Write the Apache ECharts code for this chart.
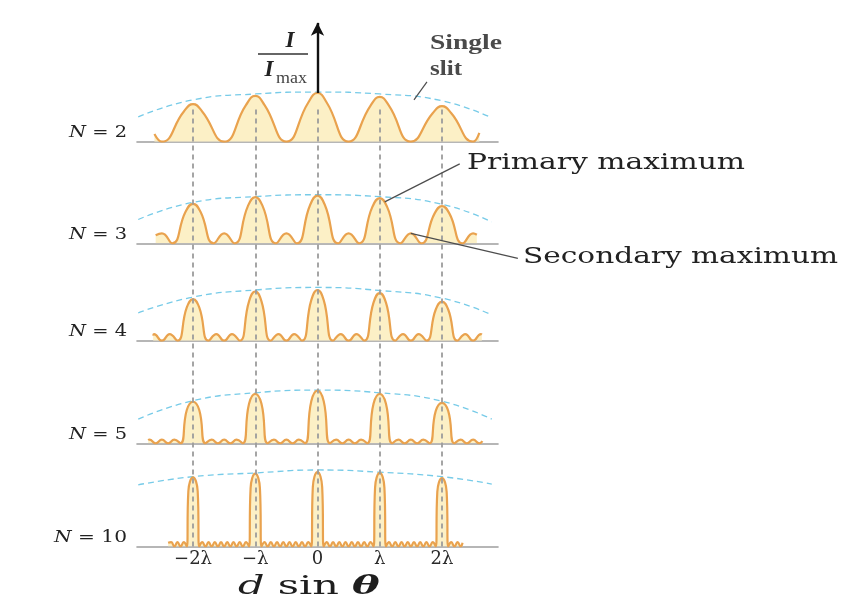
<!DOCTYPE html>
<html>
<head>
<meta charset="utf-8">
<script src="https://cdn.jsdelivr.net/npm/echarts@6/dist/echarts.min.js"></script>
<style>
html, body { margin: 0; padding: 0; background: #fff; }
#main { width: 845px; height: 612px; }
</style>
</head>
<body>
<div id="main"></div>
<script>
// d sin θ of the principal maxima, in units of λ
var orders = [-2, -1, 0, 1, 2];
var tickLabels = ['−2λ', '−λ', '0', 'λ', '2λ'];
var slitCounts = [2, 3, 4, 5, 10];

// I / Imax of each principal maximum, row by row
var peakN2 = [0.77, 0.94, 1.00, 0.92, 0.73];
var peakN3 = [0.83, 0.97, 1.00, 0.95, 0.78];
var peakN4 = [0.82, 0.97, 1.00, 0.94, 0.77];
var peakN5 = [0.79, 0.94, 1.00, 0.94, 0.77];
var peakN10 = [0.93, 0.98, 1.00, 0.99, 0.92];
var peakRows = [peakN2, peakN3, peakN4, peakN5, peakN10];

// half width of a principal maximum at 80 % of its height, in λ
var shoulderWidth = [0.15, 0.12, 0.10, 0.10, 0.075];

// height of the secondary maxima in each row
var secondary = [0, 0.21, 0.13, 0.07, 0.06];

// first and last point of each trace [d sin θ, I / Imax]
var traceStart = [[-2.62, 0.16], [-2.60, 0.17], [-2.64, 0.10], [-2.72, 0.06], [-2.40, 0.05]];
var traceEnd = [[2.60, 0.18], [2.56, 0.18], [2.64, 0.12], [2.65, 0.04], [2.33, 0.05]];

// single slit envelope (dashed blue)
var envX = [-2.88, -2, -1, 0, 1, 2, 2.8];
var envN2 = [0.51, 0.86, 0.98, 1.02, 0.98, 0.84, 0.49];
var envN3 = [0.50, 0.86, 0.98, 1.02, 0.98, 0.82, 0.45];
var envN4 = [0.55, 0.86, 1.00, 1.05, 0.99, 0.84, 0.51];
var envN5 = [0.46, 0.81, 0.96, 1.01, 0.96, 0.80, 0.46];
var envN10 = [0.83, 0.94, 0.99, 1.03, 1.00, 0.94, 0.84];
var envRows = [envN2, envN3, envN4, envN5, envN10];

// layout of the five strips
var rowBase = [141.7, 243.3, 340.7, 443.3, 546.5];
var rowUnit = [48.7, 47.6, 50.7, 52.6, 74.3];
var rowMax = [2.5, 1.25, 1.25, 1.25, 1.25];

var serif = '"DejaVu Serif", "Liberation Serif", serif';
var times = '"Liberation Serif", serif';
var orange = '#e9a24e';

// maxima, minima and shoulders of one trace; the line is smoothed between them
function tracePoints(r) {
	var n = slitCounts[r], sw = shoulderWidth[r], pts = [];
	for (var k = -3; k <= 2; k++) {
		var i = orders.indexOf(k);
		if (i >= 0) {
			pts.push([k - sw, peakRows[r][i] * 0.8]);
			pts.push([k, peakRows[r][i]]);
			pts.push([k + sw, peakRows[r][i] * 0.8]);
		}
		for (var j = 1; j < n; j++) {
			pts.push([k + j / n, 0]);
			if (j < n - 1) pts.push([k + (j + 0.5) / n, secondary[r]]);
		}
	}
	pts = pts.filter(function (p) { return p[0] > traceStart[r][0] && p[0] < traceEnd[r][0]; });
	pts.sort(function (a, b) { return a[0] - b[0]; });
	return [traceStart[r]].concat(pts, [traceEnd[r]]);
}

var grids = [], xAxes = [], yAxes = [], series = [];
for (var r = 0; r < 5; r++) {
	var pts = tracePoints(r);
	grids.push({ left: 137, width: 361, bottom: 612 - rowBase[r], height: rowUnit[r] * rowMax[r] });
	xAxes.push({
		type: 'value', gridIndex: r, min: -2.9, max: 2.9,
		axisLine: { show: true, onZero: false, lineStyle: { color: '#9e9e9e', width: 1.6 } },
		axisTick: { show: false },
		splitLine: { show: false },
		axisLabel: {
			show: r === 4,
			customValues: orders,
			margin: 4,
			color: '#2b2b2b',
			fontFamily: serif,
			fontSize: 18,
			formatter: function (v) { return tickLabels[orders.indexOf(Math.round(v))]; }
		}
	});
	yAxes.push({ type: 'value', gridIndex: r, min: 0, max: rowMax[r], show: false });
	series.push({
		type: 'line', xAxisIndex: r, yAxisIndex: r, data: pts,
		smooth: 0.5, symbol: 'none', silent: true,
		lineStyle: { width: 0, opacity: 0 },
		areaStyle: { color: '#fcf0c6', opacity: 1 },
		z: 1
	});
	series.push({
		type: 'line', xAxisIndex: r, yAxisIndex: r,
		data: envX.map(function (x, j) { return [x, envRows[r][j]]; }),
		smooth: true, symbol: 'none', silent: true,
		lineStyle: { color: '#77cbe8', width: 1.3, type: [6, 4] },
		z: 3
	});
	var trace = {
		type: 'line', xAxisIndex: r, yAxisIndex: r, data: pts,
		smooth: 0.5, symbol: 'none', silent: true,
		lineStyle: { color: orange, width: 2.2 },
		z: 4
	};
	if (r === 0) {
		// I / Imax axis arrow above the central maximum
		trace.markLine = {
			silent: true,
			symbol: ['none', 'arrow'],
			symbolSize: [10, 13],
			label: { show: false },
			lineStyle: { color: '#111', width: 2.4, type: 'solid' },
			data: [[{ coord: [0, 1.0] }, { coord: [0, 2.44] }]]
		};
	}
	series.push(trace);
}

// dashed guides through all strips at the principal maxima
grids.push({ left: 137, width: 361, top: 106, bottom: 612 - rowBase[4] });
xAxes.push({ type: 'value', gridIndex: 5, min: -2.9, max: 2.9, show: false });
yAxes.push({ type: 'value', gridIndex: 5, min: 0, max: 1, show: false });
series.push({
	type: 'line', xAxisIndex: 5, yAxisIndex: 5, data: [[0, 0]],
	symbol: 'none', silent: true, lineStyle: { width: 0, opacity: 0 },
	markLine: {
		silent: true, symbol: 'none', label: { show: false },
		lineStyle: { color: '#9c9c9c', width: 1.8, type: [5, 4] },
		data: orders.map(function (v) { return { xAxis: v }; })
	},
	z: 2
});

var option = {
	animation: false,
	backgroundColor: '#fff',
	grid: grids,
	xAxis: xAxes,
	yAxis: yAxes,
	series: series
};

var chart = echarts.init(document.getElementById('main'));
chart.setOption(option);

// ---- annotations ----
var ctx = document.createElement('canvas').getContext('2d');
function stretch(text, font, targetW) {
	ctx.font = font;
	return targetW / ctx.measureText(text).width;
}
function note(text, x, cy, size, targetW, opt) {
	opt = opt || {};
	var weight = opt.weight || 'normal', fstyle = opt.style || 'normal', align = opt.align || 'left';
	var family = opt.family || serif;
	var sx = targetW ? stretch(text, fstyle + ' ' + weight + ' ' + size + 'px ' + family, targetW) : 1;
	return {
		type: 'text', x: x, y: cy, scaleX: sx, originX: 0, originY: 0, silent: true, z: 10,
		style: {
			text: text, fontSize: size, fontFamily: family, fontWeight: weight, fontStyle: fstyle,
			fill: opt.color || '#222',
			align: align, textAlign: align, verticalAlign: 'middle', textVerticalAlign: 'middle'
		}
	};
}
function leader(a, b) {
	return {
		type: 'line', silent: true, z: 9,
		shape: { x1: a[0], y1: a[1], x2: b[0], y2: b[1] },
		style: { stroke: '#4d4d4d', lineWidth: 1.2 }
	};
}

var pSlit = chart.convertToPixel({ gridIndex: 0 }, [1.55, 0.86]);
var pPrim = chart.convertToPixel({ gridIndex: 1 }, [1.08, 0.87]);
var pSec = chart.convertToPixel({ gridIndex: 1 }, [1.5, secondary[1]]);

var graphics = [
	note('Single', 430, 44, 21, 72, { weight: 'bold', color: '#4a4a4a', family: times }),
	note('slit', 430, 70, 21, 32, { weight: 'bold', color: '#4a4a4a', family: times }),
	leader([pSlit[0], pSlit[1]], [pSlit[0] + 13, pSlit[1] - 18]),
	note('Primary maximum', 467, 163, 23, 278),
	leader([pPrim[0], pPrim[1]], [pPrim[0] + 75, pPrim[1] - 38]),
	note('Secondary maximum', 523, 257, 23, 315),
	leader([pSec[0], pSec[1]], [pSec[0] + 107, pSec[1] + 25]),
	// I / Imax
	note('I', 290, 41, 23, 0, { weight: 'bold', style: 'italic', align: 'center', family: times }),
	{ type: 'line', silent: true, shape: { x1: 258, y1: 54, x2: 308, y2: 54 }, style: { stroke: '#333', lineWidth: 1.3 } },
	note('I', 269, 70, 23, 0, { weight: 'bold', style: 'italic', align: 'center', family: times }),
	note('max', 276, 79, 16, 31, { color: '#444', family: times })
];

// d sin θ
var dsSize = 26;
var dsScale = stretch('d sin θ', 'normal ' + dsSize + 'px ' + serif, 139);
graphics.push({
	type: 'text', x: 238, y: 587, scaleX: dsScale, silent: true, z: 10,
	style: {
		text: '{d|d}{r| sin }{t|θ}',
		verticalAlign: 'middle', textVerticalAlign: 'middle',
		rich: {
			d: { fontFamily: serif, fontSize: dsSize, fontStyle: 'italic', fill: '#1e1e1e' },
			r: { fontFamily: serif, fontSize: dsSize, fill: '#1e1e1e' },
			t: { fontFamily: serif, fontSize: dsSize, fontStyle: 'italic', fontWeight: 'bold', fill: '#1e1e1e' }
		}
	}
});

// N = ... strip names
for (var i = 0; i < 5; i++) {
	var rest = ' = ' + slitCounts[i];
	var sx = stretch('N' + rest, 'normal 17px ' + serif, slitCounts[i] === 10 ? 73 : 58);
	graphics.push({
		type: 'text', x: 127, y: rowBase[i] - 9, scaleX: sx, silent: true, z: 10,
		style: {
			text: '{n|N}{r|' + rest + '}',
			align: 'right', textAlign: 'right', verticalAlign: 'middle', textVerticalAlign: 'middle',
			rich: {
				n: { fontFamily: serif, fontSize: 17, fontStyle: 'italic', fill: '#222' },
				r: { fontFamily: serif, fontSize: 17, fill: '#222' }
			}
		}
	});
}

chart.setOption({ graphic: graphics });
</script>
</body>
</html>
